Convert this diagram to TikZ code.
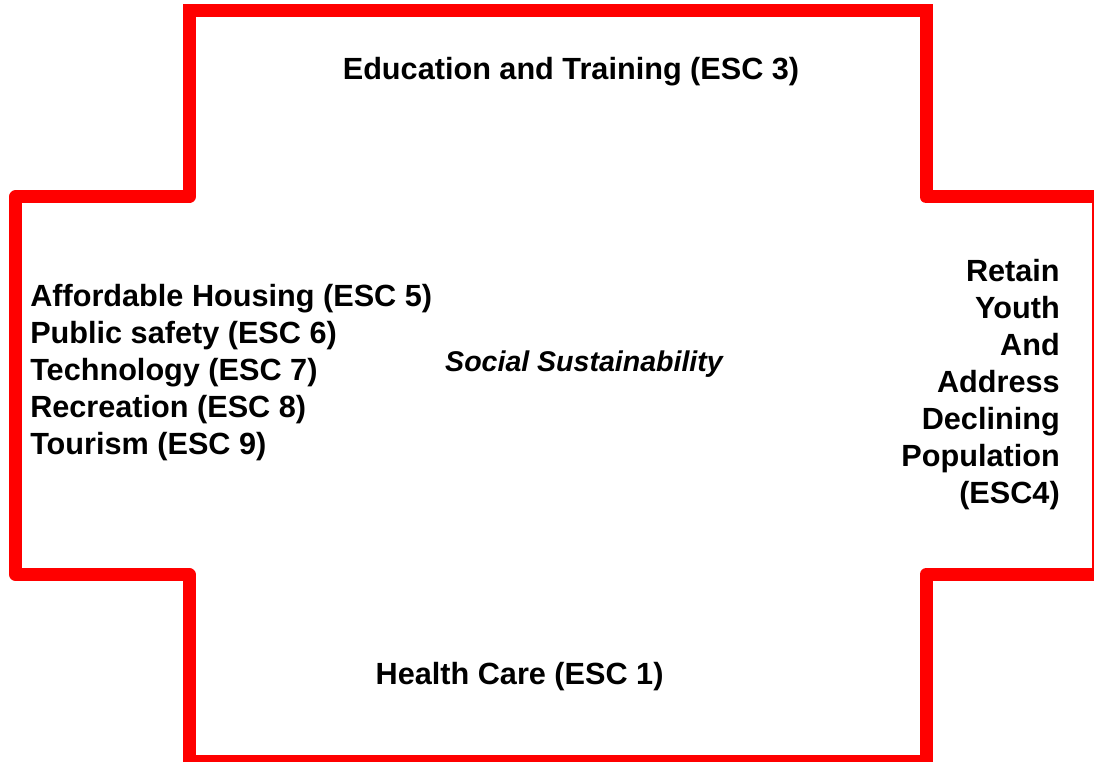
\documentclass[tikz,border=0pt]{standalone}
\usepackage{fontspec}
\setmainfont{Liberation Sans}

\begin{document}
\begin{tikzpicture}[
    font=\fontsize{21.8}{26.3}\selectfont\bfseries,
    outline/.style={draw=red, line width=0.325cm, line join=round, line cap=rect},
    topline/.style={draw=red, line width=0.325cm, line cap=rect},
    theme/.style={inner sep=0, text=black},
    core/.style={inner sep=0, text=black, font=\fontsize{20.3}{24}\selectfont\bfseries\itshape}
]
    \useasboundingbox (0,0) rectangle (27.35,19.05);
    \clip (0,0) rectangle (27.35,19.05);

    % =========================================================
    % THE CROSS
    % =========================================================
    \coordinate (TL) at (4.725,18.7875);
    \coordinate (TR) at (23.15,18.7875);

    \draw[outline] (TR) -- (23.15,14.125) -- (27.46,14.125) -- (27.46,4.6875)
        -- (23.15,4.6875) -- (23.15,0.0125) -- (4.725,0.0125) -- (4.725,4.6875)
        -- (0.3875,4.6875) -- (0.3875,14.125) -- (4.725,14.125) -- (TL);
    \draw[topline] (TL) -- (TR);

    % =========================================================
    % ARMS
    % =========================================================
    \node[theme, anchor=base] (edu) at (14.275,17.05) {Education and Training (ESC 3)};
    \node[theme, anchor=base] (health) at (12.99,1.925) {Health Care (ESC 1)};

    \node[theme, anchor=west, align=left] (services) at (0.75,9.7375) {
        Affordable Housing (ESC 5)\\
        Public safety (ESC 6)\\
        Technology (ESC 7)\\
        Recreation (ESC 8)\\
        Tourism (ESC 9)};

    \node[theme, anchor=east, align=right] (youth) at (26.5,9.425) {
        Retain\\ Youth\\ And\\ Address\\ Declining\\ Population\\ (ESC4)};

    % Centre
    \node[core] (social) at (14.6,9.95) {Social Sustainability};

\end{tikzpicture}
\end{document}
